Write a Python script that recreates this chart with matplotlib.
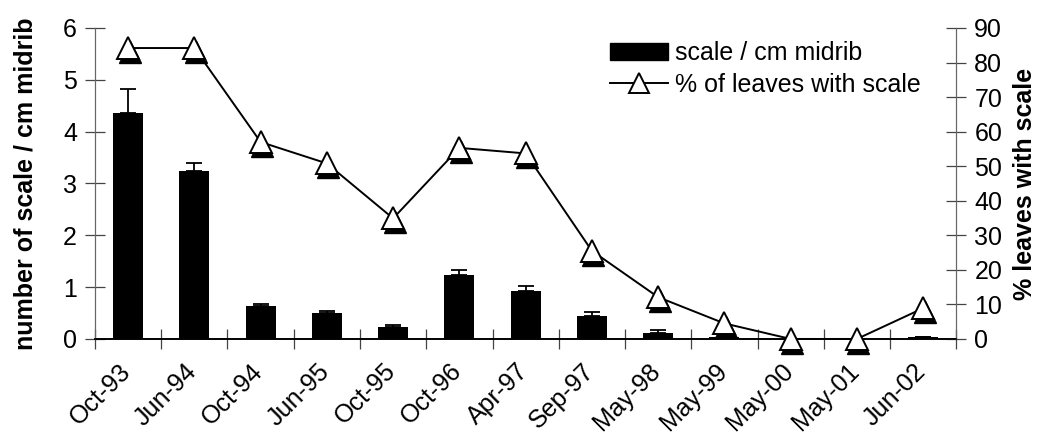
import numpy as np
import matplotlib
matplotlib.use('Agg')
import matplotlib.pyplot as plt
import matplotlib.transforms as mtransforms
from matplotlib.lines import Line2D
from matplotlib.patches import Patch

plt.rcParams['font.family'] = ['Liberation Sans', 'DejaVu Sans']

dates = ['Oct-93', 'Jun-94', 'Oct-94', 'Jun-95', 'Oct-95', 'Oct-96', 'Apr-97',
         'Sep-97', 'May-98', 'May-99', 'May-00', 'May-01', 'Jun-02']
scale_per_cm = [4.36, 3.25, 0.64, 0.50, 0.23, 1.23, 0.93, 0.45, 0.12, 0.03, 0.0, 0.0, 0.03]
scale_err = [0.47, 0.14, 0.03, 0.03, 0.03, 0.10, 0.10, 0.07, 0.06, 0.01, 0.0, 0.0, 0.0]
pct_leaves = [84.2, 84.2, 57.0, 50.8, 34.9, 55.3, 53.7, 25.5, 12.1, 4.5, 0.0, 0.0, 8.9]

x = np.arange(len(dates))
fs = 18

fig = plt.figure(figsize=(10.39, 4.34), dpi=100)
ax = fig.add_axes([0.0914, 0.219, 0.829, 0.7165])

ax.bar(x, scale_per_cm, width=0.45, color='black', zorder=2)
ax.errorbar(x, scale_per_cm, yerr=[np.zeros(len(x)), scale_err], fmt='none',
            ecolor='black', elinewidth=1.3, capsize=6, capthick=1.3, zorder=2)

ax.set_xlim(-0.5, len(dates) - 0.5)
ax.set_ylim(0, 6)
ax.set_yticks(range(0, 7))
ax.set_xticks(np.arange(-0.5, len(dates)))
ax.set_xticklabels([])
ax.tick_params(axis='x', direction='inout', length=14, width=0.9, color='#444444')
ax.tick_params(axis='y', direction='inout', length=14, width=0.9, color='#444444',
               labelsize=fs, pad=6)
ax.set_ylabel('number of scale / cm midrib', fontsize=fs, fontweight='bold', labelpad=18)

# slanted date labels, ending just left of each bar centre
lbl_trans = ax.get_xaxis_transform() + mtransforms.ScaledTranslation(
    -10 / 100, -20 / 100, fig.dpi_scale_trans)
for xi, d in zip(x, dates):
    ax.text(xi, 0, d, transform=lbl_trans, rotation=45, ha='right', va='top',
            rotation_mode='anchor', fontsize=fs)

ax2 = ax.twinx()
# drop shadow under each triangle marker
shadow = mtransforms.offset_copy(ax2.transData, fig=fig, x=1.5, y=-4, units='dots')
ax2.plot(x, pct_leaves, linestyle='none', marker='^', markersize=16, color='black',
         transform=shadow, zorder=3, clip_on=False)
ax2.plot(x, pct_leaves, color='black', linewidth=1.4, marker='^', markersize=16,
         markerfacecolor='white', markeredgecolor='black', markeredgewidth=1.4,
         zorder=4, clip_on=False)
ax2.set_ylim(0, 90)
ax2.set_yticks(range(0, 91, 10))
ax2.tick_params(axis='y', direction='inout', length=14, width=0.9, color='#444444',
                labelsize=fs, pad=6)
ax2.set_ylabel('% leaves with scale', fontsize=fs, fontweight='bold', labelpad=8)

for a in (ax, ax2):
    a.spines['top'].set_visible(False)
    a.spines['left'].set_color('#666666')
    a.spines['right'].set_color('#666666')
    a.spines['bottom'].set_color('black')
    a.spines['bottom'].set_linewidth(1.2)

handles = [Patch(facecolor='black', edgecolor='black'),
           Line2D([0], [0], color='black', linewidth=1.4, marker='^', markersize=14,
                  markerfacecolor='white', markeredgecolor='black', markeredgewidth=1.4)]
ax2.legend(handles, ['scale / cm midrib', '% of leaves with scale'], loc='upper right',
           bbox_to_anchor=(0.985, 1.03), frameon=False, fontsize=fs,
           handlelength=2.3, handletextpad=0.3, labelspacing=0.3)

fig.savefig('out.png', dpi=100)
